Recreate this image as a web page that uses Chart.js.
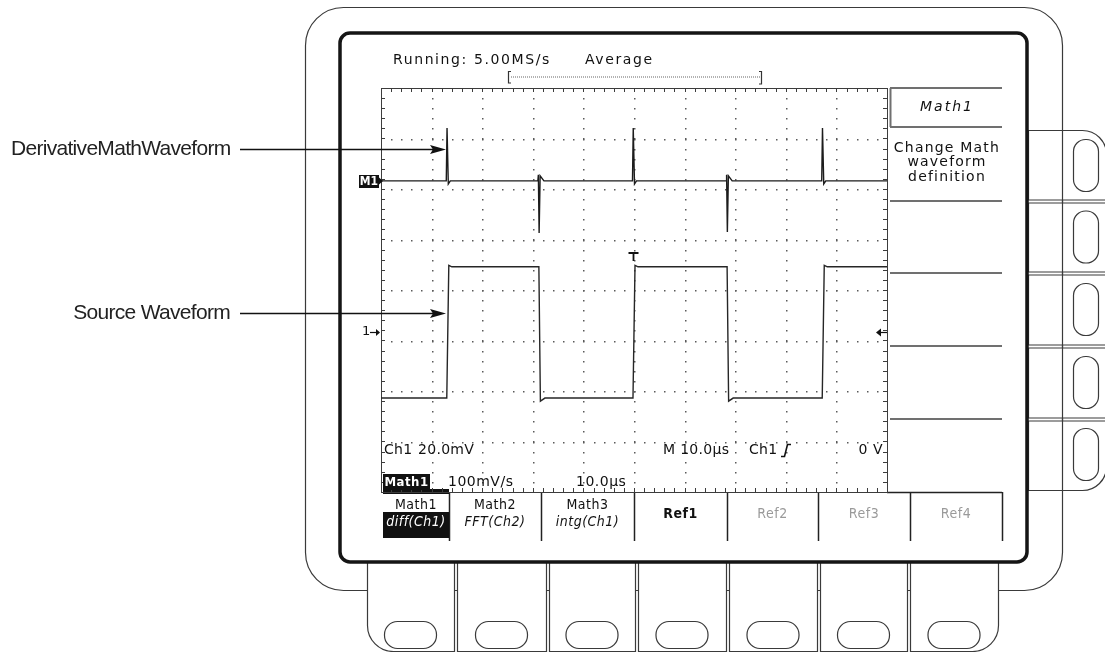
<!DOCTYPE html>
<html>
<head>
<meta charset="utf-8">
<script src="https://cdn.jsdelivr.net/npm/chart.js@4.4.1/dist/chart.umd.min.js"></script>
<style>
  html, body { margin: 0; padding: 0; background: #fff; overflow: hidden; }
  canvas { display: block; }
</style>
</head>
<body>
<canvas id="scope" width="1105" height="652"></canvas>
<script>
// Waveform vertices: time in µs (10 µs/div), level in divisions from screen centre
const srcTime  = [0, 13.0, 13.4, 14.0, 31.2, 31.5, 32.4, 49.8, 50.2, 50.8, 68.4, 68.7, 69.6, 87.2, 87.6, 88.2, 100];
const srcLevel = [-2.14, -2.14, 0.49, 0.46, 0.46, -2.20, -2.14, -2.14, 0.49, 0.46, 0.46, -2.20, -2.14, -2.14, 0.49, 0.46, 0.46];

const mathTime  = [0, 12.9, 13.05, 13.3, 13.7, 31.0, 31.1, 31.25, 31.45, 32.2, 49.7, 49.85, 50.1, 50.5,
                   68.2, 68.3, 68.45, 68.65, 69.4, 87.1, 87.25, 87.5, 87.9, 100];
const mathLevel = [2.16, 2.16, 3.21, 2.10, 2.16, 2.16, 2.28, 1.13, 2.26, 2.16, 2.16, 3.21, 2.10, 2.16,
                   2.16, 2.28, 1.15, 2.26, 2.16, 2.16, 3.21, 2.10, 2.16, 2.16];

// Graticule: 10 x 8 divisions, 5 minor marks per division
const timeSpan = [0, 100];
const levelSpan = [-4, 4];
const timePerDiv = 10;
const levelPerDiv = 1;
const minorPerDiv = 5;

// Reference markers (same units as the data)
const mathRefLevel = 2.16;
const srcRefLevel = -0.83;
const trigLevel = -0.83;
const trigTime = 49.8;
const trigMarkLevel = 0.73;

// Screen texts
const headerTexts = ["Running: 5.00MS/s", "Average"];
const sideTitle = "Math1";
const sideLines = ["Change Math", "waveform", "definition"];
const menuTop = ["Math1", "Math2", "Math3", "Ref1", "Ref2", "Ref3", "Ref4"];
const menuSub = ["diff(Ch1)", "FFT(Ch2)", "intg(Ch1)", "", "", "", ""];
const menuActive = [true, true, true, true, false, false, false];
const callouts = ["DerivativeMathWaveform", "Source Waveform"];

const SCREEN_FONT = '"DejaVu Sans", "Noto Sans", sans-serif';
const MENU_FONT = '"DejaVu Sans Condensed", "DejaVu Sans", sans-serif';
const LABEL_FONT = '"Liberation Sans", Arial, sans-serif';

function rrect(ctx, x, y, w, h, r) {
  // r: [tl, tr, br, bl]
  const [tl, tr, br, bl] = Array.isArray(r) ? r : [r, r, r, r];
  ctx.beginPath();
  ctx.moveTo(x + tl, y);
  ctx.lineTo(x + w - tr, y);
  ctx.arcTo(x + w, y, x + w, y + tr, tr);
  ctx.lineTo(x + w, y + h - br);
  ctx.arcTo(x + w, y + h, x + w - br, y + h, br);
  ctx.lineTo(x + bl, y + h);
  ctx.arcTo(x, y + h, x, y + h - bl, bl);
  ctx.lineTo(x, y + tl);
  ctx.arcTo(x, y, x + tl, y, tl);
  ctx.closePath();
}

function text(ctx, str, x, y, font, opts = {}) {
  ctx.font = font;
  ctx.fillStyle = opts.color || '#111';
  ctx.textAlign = opts.align || 'left';
  ctx.textBaseline = 'middle';
  ctx.letterSpacing = opts.spacing || '0px';
  ctx.fillText(str, x, y);
  ctx.letterSpacing = '0px';
}

// 🖥 Instrument body, bezel and buttons
function drawHardware(ctx) {
  ctx.fillStyle = '#fff';
  ctx.fillRect(0, 0, 1105, 652);
  ctx.strokeStyle = '#3a3a3a';
  ctx.lineWidth = 1.2;

  // outer bezel
  rrect(ctx, 305.5, 7.5, 757, 583, 38);
  ctx.stroke();

  // side button strip
  const rows = [130, 201, 273, 346, 419, 490];
  for (let i = 0; i < 5; i++) {
    const top = rows[i] + (i > 0 ? 1.5 : 0);
    const bot = rows[i + 1] - (i < 4 ? 1.5 : 0);
    rrect(ctx, 1028.5, top + 0.5, 78, bot - top, [0, i === 0 ? 24 : 0, i === 4 ? 24 : 0, 0]);
    ctx.fillStyle = '#fff';
    ctx.fill();
    ctx.stroke();
    const cy = (rows[i] + rows[i + 1]) / 2;
    rrect(ctx, 1073.5, cy - 26, 25, 52, 12);
    ctx.stroke();
  }
  ctx.beginPath();
  ctx.moveTo(1062.5, 130);
  ctx.lineTo(1062.5, 490);
  ctx.stroke();

  // bottom button columns
  const cols = [[367, 454], [457, 546], [549, 635], [638, 726], [729, 817], [820, 907], [910, 998]];
  cols.forEach(([l, r], i) => {
    rrect(ctx, l + 0.5, 560.5, r - l, 91, [0, 0, i === 6 ? 26 : 0, i === 0 ? 26 : 0]);
    ctx.fillStyle = '#fff';
    ctx.fill();
    ctx.stroke();
    const cx = (l + r) / 2;
    rrect(ctx, cx - 26, 621.5, 52, 27, 13);
    ctx.stroke();
  });

  // display frame
  rrect(ctx, 340, 33, 687, 529, 10);
  ctx.fillStyle = '#fff';
  ctx.fill();
  ctx.strokeStyle = '#151515';
  ctx.lineWidth = 3.5;
  ctx.stroke();
}

// 🧾 Header, side menu and bottom menu
function drawScreenTexts(ctx) {
  text(ctx, headerTexts[0], 393, 60, '14px ' + SCREEN_FONT, { spacing: '1.6px' });
  text(ctx, headerTexts[1], 585, 60, '14px ' + SCREEN_FONT, { spacing: '1.6px' });

  // record view bracket
  ctx.strokeStyle = '#333';
  ctx.lineWidth = 1.2;
  ctx.beginPath();
  ctx.moveTo(511, 71.5); ctx.lineTo(508.5, 71.5); ctx.lineTo(508.5, 83); ctx.lineTo(511, 83);
  ctx.moveTo(759, 71.5); ctx.lineTo(761.5, 71.5); ctx.lineTo(761.5, 84); ctx.lineTo(759, 84);
  ctx.stroke();
  ctx.fillStyle = '#666';
  for (let x = 511; x < 760; x += 2) ctx.fillRect(x, 76.5, 1, 1);

  // side menu
  ctx.strokeStyle = '#707070';
  ctx.lineWidth = 2;
  ctx.beginPath();
  ctx.moveTo(890, 88); ctx.lineTo(1002, 88);
  ctx.moveTo(890, 127); ctx.lineTo(1002, 127);
  ctx.moveTo(890.5, 88); ctx.lineTo(890.5, 127);
  [201, 273, 346, 419].forEach(y => { ctx.moveTo(890, y); ctx.lineTo(1002, y); });
  ctx.stroke();
  text(ctx, sideTitle, 947, 107, 'italic 14px ' + SCREEN_FONT, { align: 'center', spacing: '2px' });
  sideLines.forEach((s, i) => text(ctx, s, 947, 148 + i * 14.5, '14px ' + SCREEN_FONT, { align: 'center', spacing: '1.2px' }));

  // bottom menu
  const seps = [383, 449, 541, 634, 727, 818, 910, 1002];
  ctx.strokeStyle = '#222';
  ctx.lineWidth = 1.5;
  ctx.beginPath();
  ctx.moveTo(887, 492.5); ctx.lineTo(1002, 492.5);
  for (let i = 1; i < seps.length; i++) { ctx.moveTo(seps[i] + 0.5, 492); ctx.lineTo(seps[i] + 0.5, 541); }
  ctx.stroke();
  ctx.fillStyle = '#111';
  ctx.fillRect(383, 489, 66, 5);
  ctx.fillRect(383, 512, 66, 26);
  menuTop.forEach((s, i) => {
    const cx = (seps[i] + seps[i + 1]) / 2;
    if (menuSub[i]) {
      text(ctx, s, cx, 505, '14px ' + MENU_FONT, { align: 'center', spacing: '0.5px' });
      text(ctx, menuSub[i], cx, 522, 'italic 14px ' + MENU_FONT,
        { align: 'center', color: i === 0 ? '#fff' : '#111', spacing: '0.5px' });
    } else {
      text(ctx, s, cx, 514, (menuActive[i] ? '600 ' : '') + '14px ' + MENU_FONT,
        { align: 'center', color: menuActive[i] ? '#111' : '#9a9a9a', spacing: '0.5px' });
    }
  });
}

// ▦ Graticule through the chart's scales
function drawGraticule(chart) {
  const { ctx, chartArea: a, scales: { x, y } } = chart;
  const xMinor = timePerDiv / minorPerDiv;
  const yMinor = levelPerDiv / minorPerDiv;
  ctx.save();
  ctx.fillStyle = '#5a5a5a';
  for (let t = timeSpan[0] + timePerDiv; t < timeSpan[1] - 1e-6; t += timePerDiv) {
    const px = Math.round(x.getPixelForValue(t));
    for (let v = levelSpan[0] + yMinor; v < levelSpan[1] - 1e-6; v += yMinor) {
      ctx.fillRect(px, Math.round(y.getPixelForValue(v)), 1.5, 1.5);
    }
  }
  for (let v = levelSpan[0] + levelPerDiv; v < levelSpan[1] - 1e-6; v += levelPerDiv) {
    const py = Math.round(y.getPixelForValue(v));
    for (let t = timeSpan[0] + xMinor; t < timeSpan[1] - 1e-6; t += xMinor) {
      ctx.fillRect(Math.round(x.getPixelForValue(t)), py, 1.5, 1.5);
    }
  }
  // frame with minor ticks
  ctx.strokeStyle = '#3c3c3c';
  ctx.lineWidth = 1;
  ctx.strokeRect(a.left + 0.5, a.top + 0.5, a.right - a.left, a.bottom - a.top);
  ctx.beginPath();
  for (let t = timeSpan[0] + xMinor; t < timeSpan[1] - 1e-6; t += xMinor) {
    const px = Math.round(x.getPixelForValue(t)) + 0.5;
    ctx.moveTo(px, a.top); ctx.lineTo(px, a.top + 4);
    ctx.moveTo(px, a.bottom); ctx.lineTo(px, a.bottom - 4);
  }
  for (let v = levelSpan[0] + yMinor; v < levelSpan[1] - 1e-6; v += yMinor) {
    const py = Math.round(y.getPixelForValue(v)) + 0.5;
    ctx.moveTo(a.left, py); ctx.lineTo(a.left + 4, py);
    ctx.moveTo(a.right, py); ctx.lineTo(a.right - 4, py);
  }
  ctx.stroke();
  ctx.restore();
}

// 📍 Channel markers and readouts
function drawMarkers(chart) {
  const { ctx, chartArea: a, scales: { x, y } } = chart;
  ctx.save();
  // M1 reference
  const ym = Math.round(y.getPixelForValue(mathRefLevel));
  ctx.fillStyle = '#111';
  ctx.fillRect(359, ym - 6, 20, 13);
  text(ctx, 'M1', 369, ym + 0.5, 'bold 12px ' + MENU_FONT, { align: 'center', color: '#fff' });
  ctx.fillStyle = '#111';
  ctx.beginPath(); ctx.moveTo(379, ym - 3.5); ctx.lineTo(383, ym); ctx.lineTo(379, ym + 3.5); ctx.fill();

  // channel 1 ground
  const yg = Math.round(y.getPixelForValue(srcRefLevel));
  text(ctx, '1', 362, yg, '13px ' + SCREEN_FONT);
  ctx.strokeStyle = '#111';
  ctx.lineWidth = 1.2;
  ctx.beginPath(); ctx.moveTo(370, yg + 0.5); ctx.lineTo(377, yg + 0.5); ctx.stroke();
  ctx.beginPath(); ctx.moveTo(376, yg - 3); ctx.lineTo(380, yg + 0.5); ctx.lineTo(376, yg + 4); ctx.fill();

  // trigger level
  const yt = Math.round(y.getPixelForValue(trigLevel));
  ctx.beginPath(); ctx.moveTo(879, yt + 0.5); ctx.lineTo(887, yt + 0.5); ctx.stroke();
  ctx.beginPath(); ctx.moveTo(881, yt - 3.5); ctx.lineTo(876, yt + 0.5); ctx.lineTo(881, yt + 4.5); ctx.fill();

  // trigger position T
  const tx = Math.round(x.getPixelForValue(trigTime)) + 0.5;
  const ty = Math.round(y.getPixelForValue(trigMarkLevel));
  ctx.lineWidth = 1.8;
  ctx.beginPath();
  ctx.moveTo(tx - 5, ty); ctx.lineTo(tx + 5, ty);
  ctx.moveTo(tx, ty); ctx.lineTo(tx, ty + 8);
  ctx.stroke();

  // readouts
  const f = '14px ' + SCREEN_FONT;
  text(ctx, 'Ch1', 384, 450, f, { spacing: '0.3px' });
  text(ctx, '20.0mV', 418, 450, f, { spacing: '0.3px' });
  text(ctx, 'M 10.0µs', 663, 450, f, { spacing: '0.3px' });
  text(ctx, 'Ch1', 749, 450, f, { spacing: '0.3px' });
  ctx.lineWidth = 1.6;
  ctx.beginPath();
  ctx.moveTo(781, 456.5); ctx.lineTo(784.5, 456.5); ctx.lineTo(787.5, 444.5); ctx.lineTo(791, 444.5);
  ctx.stroke();
  text(ctx, '0 V', 883, 450, f, { align: 'right', spacing: '0.5px' });

  ctx.fillStyle = '#111';
  ctx.fillRect(383, 474, 47, 16);
  text(ctx, 'Math1', 406.5, 482.5, 'bold 13px ' + MENU_FONT, { align: 'center', color: '#fff', spacing: '0.5px' });
  text(ctx, '100mV/s', 448, 482, f, { spacing: '0.5px' });
  text(ctx, '10.0µs', 576, 482, f, { spacing: '0.5px' });
  ctx.restore();
}

// ➜ Callout labels to the left of the instrument
function drawCallouts(ctx) {
  ctx.save();
  const rows = [[callouts[0], 149, 11, 'left'], [callouts[1], 313, 230, 'right']];
  rows.forEach(([s, yy, xx, al]) => {
    text(ctx, s, xx, yy, '21px ' + LABEL_FONT, { align: al, color: '#222', spacing: '-0.7px' });
    ctx.strokeStyle = '#111';
    ctx.fillStyle = '#111';
    ctx.lineWidth = 1.4;
    ctx.beginPath(); ctx.moveTo(240, yy + 0.5); ctx.lineTo(434, yy + 0.5); ctx.stroke();
    ctx.beginPath(); ctx.moveTo(446, yy + 0.5); ctx.lineTo(430, yy - 4); ctx.lineTo(433, yy + 0.5); ctx.lineTo(430, yy + 5); ctx.closePath(); ctx.fill();
  });
  ctx.restore();
}

const scopePlugin = {
  id: 'scopeScreen',
  beforeDraw(chart) {
    const ctx = chart.ctx;
    ctx.save();
    drawHardware(ctx);
    drawScreenTexts(ctx);
    ctx.restore();
  },
  beforeDatasetsDraw(chart) { drawGraticule(chart); },
  afterDraw(chart) {
    drawMarkers(chart);
    drawCallouts(chart.ctx);
  }
};

const scopeCtx = document.getElementById('scope').getContext('2d');
new Chart(scopeCtx, {
  type: 'line',
  data: {
    datasets: [
      {
        label: 'Math1 diff(Ch1)',
        data: mathTime.map((t, i) => ({ x: t, y: mathLevel[i] })),
        borderColor: '#1c1c1c',
        borderWidth: 1.4
      },
      {
        label: 'Ch1',
        data: srcTime.map((t, i) => ({ x: t, y: srcLevel[i] })),
        borderColor: '#262626',
        borderWidth: 1.4
      }
    ]
  },
  options: {
    responsive: false,
    animation: false,
    layout: { padding: { left: 381, right: 218, top: 88, bottom: 160 } },
    elements: { point: { radius: 0 }, line: { tension: 0 } },
    scales: {
      x: { type: 'linear', min: timeSpan[0], max: timeSpan[1], display: false },
      y: { type: 'linear', min: levelSpan[0], max: levelSpan[1], display: false }
    },
    plugins: { legend: { display: false }, tooltip: { enabled: false } }
  },
  plugins: [scopePlugin]
});
</script>
</body>
</html>
